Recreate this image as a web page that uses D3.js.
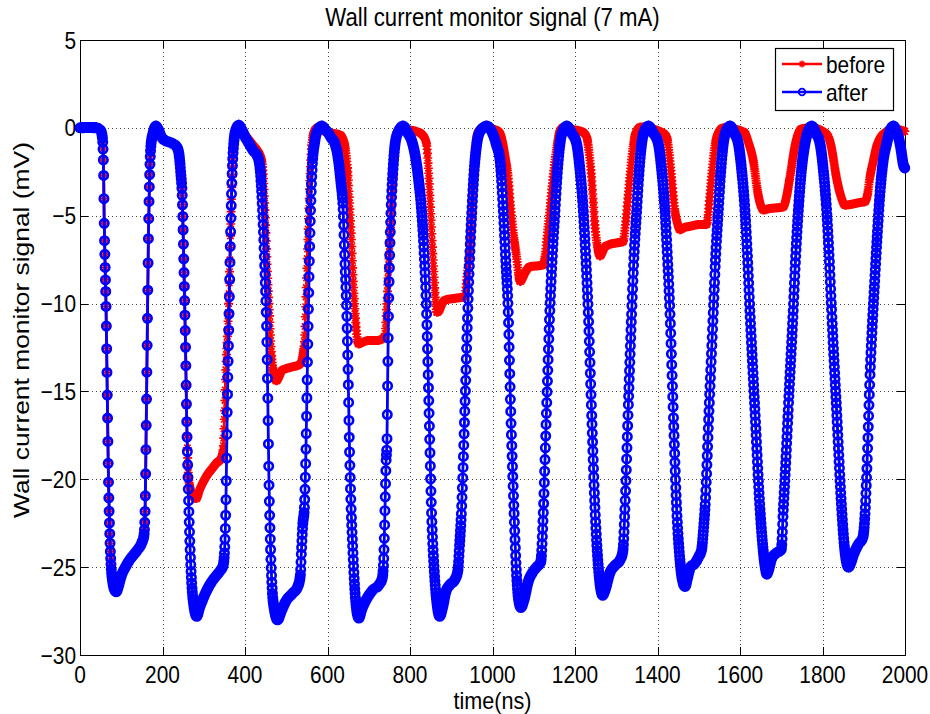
<!DOCTYPE html>
<html>
<head>
<meta charset="utf-8">
<script src="https://cdn.jsdelivr.net/npm/d3@7"></script>
<style>
  body { margin: 0; background: #fff; }
  text { font-family: "Liberation Sans", Arial, Helvetica, sans-serif; fill: #000; }
</style>
</head>
<body>
<svg id="chart" width="930" height="714"></svg>
<script>
// Wall current monitor signal, samples as [time (ns), signal (mV)]
const beforeSamples = [
  [0,0],[20,0.02],[40,0],[50,-0.15],[54,-0.5],[56,-1.3],[57.5,-3],[58.5,-5],[61,-8],[63,-10],[66,-15],[69,-20],[72,-23],[75,-24.8],[79,-25.8],[84,-26.3],[88,-26.4],[93,-26.1],[100,-25.5],[110,-25],[120,-24.6],[130,-24.3],[140,-24],[150,-23.6],[155,-23.2],[158,-21.5],[160,-18],[163,-12],[166,-6],[169,-2.5],[172,-1],[177,-0.3],[184,0.1],
  [190,-0.1],[197,-0.5],[205,-0.7],[215,-0.8],[225,-0.9],[235,-1.1],[240,-1.5],[244,-2.5],[248,-4],[252,-8],[255.5,-12],[259,-17],[263,-19.8],[268,-20.6],[275,-21],[282,-21.1],[290,-20.6],[300,-20.1],[310,-19.7],[320,-19.4],[330,-19.1],[342,-18.8],[347,-18.3],[350,-16.5],[354,-13.5],[358,-11.5],[361,-9.5],[365,-6],[369,-2.5],[373,-0.8],[378,-0.1],[385,0.15],
  [392,-0.1],[400,-0.4],[410,-0.7],[420,-1.0],[430,-1.3],[440,-1.8],[445,-3],[449,-5],[454,-8],[459,-10.5],[464,-12.8],[470,-14],[476,-14.4],[482,-14.2],[490,-13.8],[500,-13.7],[515,-13.6],[530,-13.5],[537,-13.3],[541,-12.8],[544,-12.2],[548,-9.5],[552,-6.6],[557.6,-2.8],[562,-0.9],[570,-0.1],[581,0.05],
  [594,-0.2],[610,-0.3],[630,-0.4],[640,-0.8],[645,-1.5],[650,-2.8],[654,-4.5],[658.6,-6.6],[662,-8.5],[666.7,-10.4],[671,-11.8],[675,-12.3],[685,-12.2],[700,-12.1],[720,-12.1],[739,-11.9],[743,-10.4],[749,-7.5],[755,-4.7],[763.6,-0.9],[772,-0.1],[780,0.05],
  [795,-0.1],[815,-0.2],[830,-0.4],[840,-0.9],[845,-2.5],[850,-4.7],[856.6,-7.7],[861,-9.5],[865,-10.5],[871,-10.4],[878,-10],[885,-9.8],[910,-9.7],[933,-9.6],[938,-8.5],[945.5,-6.6],[952,-3.5],[959,-1],[966,-0.2],[982,0.05],
  [1000,-0.05],[1018,-0.3],[1025,-0.9],[1031,-1.7],[1038,-2.8],[1044,-4.5],[1050,-5.9],[1058.6,-7.4],[1063,-8.3],[1067,-8.75],[1072,-8.6],[1080,-8.2],[1091,-7.9],[1110,-7.85],[1123,-7.8],[1128,-7.2],[1133,-6],[1139,-4.7],[1145,-3.2],[1151.5,-1.85],[1158,-0.8],[1163.6,-0.15],[1175,0.05],
  [1195,-0.1],[1215,-0.2],[1228,-0.5],[1234,-1.4],[1240,-2.8],[1244,-4.1],[1248.5,-5.6],[1254,-6.7],[1260.6,-7.3],[1266,-7.1],[1272,-6.8],[1281,-6.66],[1300,-6.55],[1317,-6.47],[1321,-5.8],[1329,-3.8],[1335,-2.3],[1341,-1.06],[1347,-0.3],[1360,0.05],
  [1385,-0.05],[1405,-0.2],[1422,-0.5],[1428,-1.4],[1434,-2.8],[1442,-4.7],[1448,-5.4],[1454.5,-5.8],[1462,-5.7],[1479,-5.6],[1503,-5.5],[1519,-5.5],[1523,-4.9],[1527,-3.8],[1533,-2.3],[1539,-1.06],[1547,-0.3],[1560,0],
  [1580,-0.05],[1600,-0.15],[1612,-0.3],[1620,-0.8],[1632,-1.85],[1644,-3.8],[1650,-4.4],[1656.6,-4.67],[1670,-4.6],[1690,-4.55],[1705,-4.5],[1712,-4],[1721,-2.8],[1733,-1.06],[1740,-0.4],[1750,-0.05],[1775,0],
  [1800,-0.2],[1814,-0.5],[1820,-0.95],[1826,-1.7],[1832,-2.6],[1838,-3.3],[1846,-4],[1854.5,-4.4],[1870,-4.35],[1890,-4.25],[1903,-4.2],[1909,-3.8],[1915,-2.8],[1923,-1.9],[1931,-1.06],[1942,-0.5],[1951.5,-0.3],[1965,-0.1],[1980,-0.1],[2000,-0.2]
];

const afterSamples = [
  [0,0],[20,0.02],[40,0],[50,-0.15],[54,-0.5],[56,-1.3],[57.5,-3],[58.5,-5],[61,-8],[63,-10],[66,-15],[69,-20],[72,-23],[75,-24.8],[79,-25.8],[84,-26.3],[88,-26.4],[93,-26.1],[100,-25.5],[110,-25],[120,-24.6],[130,-24.3],[140,-24],[150,-23.6],[155,-23.2],[158,-21.5],[160,-18],[163,-12],[166,-6],[169,-2.5],[172,-1],[177,-0.3],[184,0.1],
  [190,-0.1],[197,-0.5],[205,-0.7],[215,-0.8],[225,-0.9],[235,-1.1],[240,-1.5],[244,-2.5],[248,-4],[252,-8],[255.5,-12],[259,-17],[263,-21],[267,-24],[271,-26],[276,-27.2],[283,-27.8],[290,-27.3],[300,-26.7],[310,-26.2],[320,-25.8],[330,-25.5],[340,-25.2],[347,-24.9],[351,-23.8],[354,-21],[357,-16],[361,-11],[365,-6],[369,-2.5],[373,-0.8],[378,-0.1],[385,0.15],
  [392,-0.1],[400,-0.5],[410,-0.9],[420,-1.3],[430,-1.6],[436,-2.2],[440,-3.5],[444,-5.5],[448,-8],[452,-11],[455,-15],[458,-20],[462,-24],[466,-26.3],[471,-27.4],[479,-28],[488,-27.5],[500,-26.9],[515,-26.5],[528,-26.1],[534,-25.5],[537,-24],[540,-22.6],[544,-21.6],[548,-18],[551,-14],[554,-10],[558,-5.5],[563,-2.2],[569,-0.8],[577,-0.1],[586,0.1],
  [595,-0.1],[602,-0.3],[610,-0.6],[618,-0.9],[625,-1.6],[632,-3],[638,-4.7],[642,-7.5],[646.5,-10.4],[650,-14],[653,-17.9],[657,-21.5],[661,-23.8],[666,-26.2],[671,-27.5],[676,-27.9],[683,-27.4],[695,-26.8],[710,-26.3],[725,-26],[733,-25.6],[737,-24],[740,-21],[742,-19],[744,-18],[746,-14],[748,-10.4],[751,-7],[754,-4.7],[759,-2.3],[764,-0.9],[772,-0.2],[783,0.1],
  [795,-0.3],[805,-0.8],[812,-1.5],[820,-2.8],[828,-4.7],[834,-7],[840,-10.4],[846,-16],[852,-21.7],[859,-25.3],[865,-27],[872,-27.8],[879,-27.3],[887,-26.4],[897,-26],[909,-25.7],[916,-25.2],[920,-23.8],[925,-21.7],[933,-16],[940,-10.4],[945,-7.2],[950,-4.7],[955,-2.6],[962,-0.9],[970,-0.2],[986,0.1],
  [1000,-0.3],[1010,-1.0],[1018,-1.8],[1026,-4.7],[1032,-7.5],[1038,-10.4],[1044,-16],[1052,-21.7],[1058,-25.3],[1063,-26.8],[1069,-27.3],[1076,-26.9],[1087,-25.8],[1097,-25.3],[1107,-25],[1117,-24.7],[1123,-22],[1131,-16],[1139,-10.4],[1145,-7.3],[1151.5,-4.7],[1157,-2.6],[1163.6,-0.9],[1170,-0.2],[1180,0.1],
  [1192,-0.3],[1204,-0.9],[1212,-2.4],[1220,-4.7],[1226,-7.3],[1232,-10.4],[1240,-16],[1248.5,-21.7],[1256,-24.8],[1262,-26.2],[1267,-26.6],[1273,-26.3],[1285,-25.3],[1297,-24.9],[1309,-24.6],[1316,-24.1],[1321,-21.7],[1329,-16],[1337.5,-10.4],[1343,-7.3],[1349.5,-4.7],[1355,-2.6],[1361.6,-0.9],[1368,-0.2],[1378,0.1],
  [1390,-0.3],[1402,-0.9],[1410,-2.4],[1418,-4.7],[1424,-7.3],[1430,-10.4],[1438,-16],[1446.5,-21.7],[1454,-24.5],[1460,-25.7],[1467,-26.1],[1473,-25.6],[1480,-25],[1490,-24.8],[1500,-24.4],[1507,-24],[1511,-23],[1515,-21.7],[1525,-16],[1535.4,-10.4],[1541,-7.3],[1547.5,-4.7],[1553,-2.6],[1559.6,-0.9],[1566,-0.2],[1576,0.1],
  [1586,-0.3],[1596,-0.9],[1604,-2.4],[1612,-4.7],[1618,-7.3],[1624,-10.4],[1636,-16],[1648.5,-21.7],[1656,-24],[1661,-25],[1665,-25.4],[1670,-25.1],[1677,-24.5],[1688,-24.2],[1700,-24],[1705,-21.7],[1711,-19],[1717,-16],[1729,-10.4],[1735,-7.3],[1741.4,-4.7],[1749,-2.4],[1757.6,-0.9],[1765,-0.2],[1774,0.1],
  [1784,-0.3],[1794,-0.9],[1802,-2.4],[1810,-4.7],[1816,-7.3],[1822,-10.4],[1834,-16],[1846.5,-21.7],[1853,-23.8],[1858,-24.7],[1863,-25],[1868,-24.8],[1875,-24.3],[1887,-23.7],[1898,-23.3],[1903,-22],[1907,-19.8],[1915,-14.2],[1927,-8.5],[1933,-6],[1939.4,-3.7],[1947,-1.9],[1955.6,-0.9],[1963,-0.2],[1972,0.1],[1978,-0.1],[1984,-0.5],[1990,-1.2],[1996,-2.1],[2000,-2.3]
];

const xTickValues = [0, 200, 400, 600, 800, 1000, 1200, 1400, 1600, 1800, 2000];
const yTickValues = [-30, -25, -20, -15, -10, -5, 0, 5];
const seriesNames = ["before", "after"];
const seriesColors = ["#ff0000", "#0000ff"];

const titleText = "Wall current monitor signal (7 mA)";
const xLabelText = "time(ns)";
const yLabelText = "Wall current monitor signal (mV)";

// Layout
const plot = { left: 80, right: 905, top: 40, bottom: 655 };
const FONT = 24;        // glyph height basis
const SX = 0.87;        // horizontal squeeze of the lettering
const TICK = 8;
const MARK_EVERY_NS = 0.7;   // marker pitch along the time axis

const svg = d3.select("#chart");
const x = d3.scaleLinear().domain([0, 2000]).range([plot.left, plot.right]);
const y = d3.scaleLinear().domain([-30, 5]).range([plot.bottom, plot.top]);

function label(parent, str, px, py, opts = {}) {
  const size = opts.size || FONT;
  let tf = `translate(${px},${py}) scale(${opts.sx || SX},1)`;
  if (opts.rotate) tf += " rotate(-90)";
  return parent.append("text")
    .attr("transform", tf)
    .attr("text-anchor", opts.anchor || "middle")
    .attr("font-size", size)
    .text(str);
}

// Background
svg.append("rect").attr("width", 930).attr("height", 714).attr("fill", "#fff");

// Dotted grid
const grid = svg.append("g").attr("stroke", "#444").attr("stroke-width", 1)
  .attr("stroke-dasharray", "1,3");
grid.selectAll("line.gx").data(xTickValues.slice(1, -1)).join("line")
  .attr("x1", d => Math.round(x(d)) + 0.5).attr("x2", d => Math.round(x(d)) + 0.5)
  .attr("y1", plot.top).attr("y2", plot.bottom);
grid.selectAll("line.gy").data(yTickValues.slice(1, -1)).join("line")
  .attr("y1", d => Math.round(y(d)) + 0.5).attr("y2", d => Math.round(y(d)) + 0.5)
  .attr("x1", plot.left).attr("x2", plot.right);

// Axes box and inward ticks
const axes = svg.append("g").attr("stroke", "#000").attr("stroke-width", 1).attr("fill", "none");
axes.append("rect").attr("x", plot.left + 0.5).attr("y", plot.top + 0.5)
  .attr("width", plot.right - plot.left).attr("height", plot.bottom - plot.top);
xTickValues.forEach(v => {
  const px = Math.round(x(v)) + 0.5;
  axes.append("line").attr("x1", px).attr("x2", px).attr("y1", plot.bottom).attr("y2", plot.bottom - TICK);
  axes.append("line").attr("x1", px).attr("x2", px).attr("y1", plot.top).attr("y2", plot.top + TICK);
});
yTickValues.forEach(v => {
  const py = Math.round(y(v)) + 0.5;
  axes.append("line").attr("y1", py).attr("y2", py).attr("x1", plot.left).attr("x2", plot.left + TICK);
  axes.append("line").attr("y1", py).attr("y2", py).attr("x1", plot.right).attr("x2", plot.right - TICK);
});

// Tick labels
const tickLabels = svg.append("g");
xTickValues.forEach(v => label(tickLabels, String(v), x(v), plot.bottom + 28));
yTickValues.forEach(v => label(tickLabels, v < 0 ? "\u2212" + Math.abs(v) : String(v),
  plot.left - 4, y(v) + FONT * 0.36, { anchor: "end" }));

// Titles
label(svg, titleText, (plot.left + plot.right) / 2, 26, { size: 25.5 });
label(svg, xLabelText, (plot.left + plot.right) / 2, 708.5, { size: 23, sx: 0.94 });
label(svg, yLabelText, 29, 330, { rotate: true, size: 26.4 });

// Traces
const line = d3.line().x(d => x(d[0])).y(d => y(d[1])).curve(d3.curveMonotoneX);

// Flatten the trace's curve into a fine polyline by feeding the same
// line generator a recording context.
function flattenTrace(samples) {
  const pts = [];
  let cx = 0, cy = 0;
  const ctx = {
    moveTo(x0, y0) { cx = x0; cy = y0; pts.push([x0, y0]); },
    lineTo(x1, y1) {
      const n = 24;
      for (let i = 1; i <= n; i++) pts.push([cx + (x1 - cx) * i / n, cy + (y1 - cy) * i / n]);
      cx = x1; cy = y1;
    },
    bezierCurveTo(x1, y1, x2, y2, x3, y3) {
      const n = 48;
      for (let i = 1; i <= n; i++) {
        const t = i / n, m = 1 - t;
        const a = m * m * m, b = 3 * m * m * t, c = 3 * m * t * t, d = t * t * t;
        pts.push([a * cx + b * x1 + c * x2 + d * x3, a * cy + b * y1 + c * y2 + d * y3]);
      }
      cx = x3; cy = y3;
    },
    closePath() {}
  };
  line.context(ctx)(samples);
  line.context(null);
  return pts;
}

// Marker positions along a trace: one per MARK_EVERY_NS of horizontal travel
function traceMarks(samples) {
  const pitch = x(MARK_EVERY_NS) - x(0);
  const out = [];
  let lastX = -Infinity;
  for (const p of flattenTrace(samples)) {
    if (p[0] - lastX >= pitch) { out.push(p); lastX = p[0]; }
  }
  return out;
}

function starPath(pts, a, b) {
  return pts.map(([px, py]) =>
    `M${(px - a).toFixed(2)},${(py - a).toFixed(2)}L${(px + a).toFixed(2)},${(py + a).toFixed(2)}` +
    `M${(px - a).toFixed(2)},${(py + a).toFixed(2)}L${(px + a).toFixed(2)},${(py - a).toFixed(2)}` +
    `M${(px - b).toFixed(2)},${py.toFixed(2)}L${(px + b).toFixed(2)},${py.toFixed(2)}` +
    `M${px.toFixed(2)},${(py - b).toFixed(2)}L${px.toFixed(2)},${(py + b).toFixed(2)}`).join("");
}
function ringPath(pts, r) {
  return pts.map(([px, py]) =>
    `M${(px + r).toFixed(2)},${py.toFixed(2)}A${r},${r} 0 1 0 ${(px - r).toFixed(2)},${py.toFixed(2)}` +
    `A${r},${r} 0 1 0 ${(px + r).toFixed(2)},${py.toFixed(2)}`).join("");
}

const traces = svg.append("g");

// "before" trace with star markers
traces.append("path").datum(beforeSamples)
  .attr("d", line).attr("fill", "none").attr("stroke", seriesColors[0])
  .attr("stroke-width", 2.8).attr("stroke-linejoin", "round");
traces.append("path")
  .attr("d", starPath(traceMarks(beforeSamples), 3.2, 4.5))
  .attr("fill", "none").attr("stroke", seriesColors[0]).attr("stroke-width", 1.6);

// "after" trace with ring markers
traces.append("path").datum(afterSamples)
  .attr("d", line).attr("fill", "none").attr("stroke", seriesColors[1])
  .attr("stroke-width", 2.8).attr("stroke-linejoin", "round");
traces.append("path")
  .attr("d", ringPath(traceMarks(afterSamples), 4.2))
  .attr("fill", "none").attr("stroke", seriesColors[1]).attr("stroke-width", 2.6);

// Legend
const lg = svg.append("g");
lg.append("rect").attr("x", 775.5).attr("y", 48.5).attr("width", 118).attr("height", 62)
  .attr("fill", "#fff").attr("stroke", "#000").attr("stroke-width", 1.2);
const legendRows = [64, 92];
seriesNames.forEach((name, i) => {
  const ly = legendRows[i];
  lg.append("line").attr("x1", 782).attr("x2", 822).attr("y1", ly).attr("y2", ly)
    .attr("stroke", seriesColors[i]).attr("stroke-width", 2.5);
  if (i === 0) {
    lg.append("path").attr("d", starPath([[802, ly]], 2.4, 3.4))
      .attr("stroke", seriesColors[i]).attr("stroke-width", 1.5).attr("fill", "none");
  } else {
    lg.append("path").attr("d", ringPath([[802, ly]], 3.3))
      .attr("stroke", seriesColors[i]).attr("stroke-width", 1.8).attr("fill", "none");
  }
  label(lg, name, 826, ly + FONT * 0.36, { anchor: "start" });
});
</script>
</body>
</html>
